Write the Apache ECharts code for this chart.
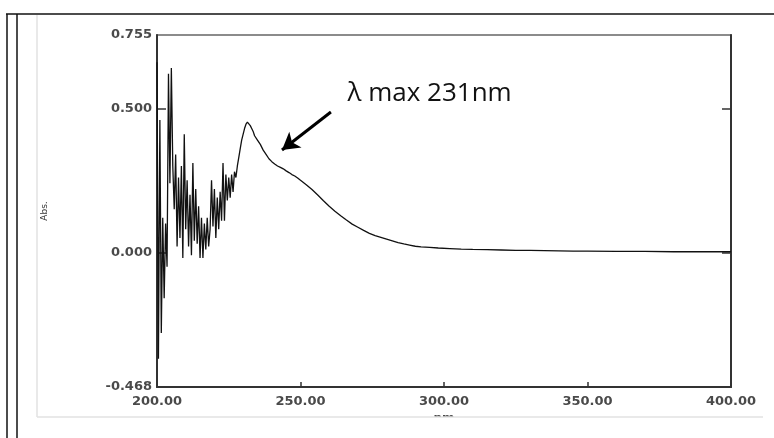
<!DOCTYPE html>
<html>
<head>
<meta charset="utf-8">
<script src="https://cdn.jsdelivr.net/npm/echarts@6.0.0/dist/echarts.min.js"></script>
<style>
html,body{margin:0;padding:0;background:#fff;}
#chart{width:774px;height:438px;}
</style>
</head>
<body>
<div id="chart"></div>
<script>
// ---- data ----
const wavelengths = [
  200.0,200.5,201.0,201.5,202.0,202.5,203.0,203.5,204.0,204.5,
  205.0,205.5,206.0,206.5,207.0,207.5,208.0,208.5,209.0,209.5,
  210.0,210.5,211.0,211.5,212.0,212.5,213.0,213.5,214.0,214.5,
  215.0,215.5,216.0,216.5,217.0,217.5,218.0,218.5,219.0,219.5,
  220.0,220.5,221.0,221.5,222.0,222.5,223.0,223.5,224.0,224.5,
  225.0,225.5,226.0,226.5,227.0,227.5,228.0,228.5,229.0,229.5,
  230.0,230.5,231.0,231.5,232.0,232.5,233.0,233.5,234.0,235.0,
  236.0,237.0,238.0,239.0,240.0,241.0,242.0,243.0,244.0,245.0,
  246.0,247.0,248.0,249.0,250.0,252.0,254.0,256.0,258.0,260.0,
  262.0,264.0,266.0,268.0,270.0,272.0,274.0,276.0,278.0,280.0,
  282.0,284.0,286.0,288.0,290.0,292.0,295.0,298.0,302.0,306.0,
  310.0,315.0,320.0,325.0,330.0,335.0,340.0,345.0,350.0,360.0,
  370.0,380.0,390.0,400.0
];
const absorbance = [
  0.66,-0.37,0.46,-0.28,0.12,-0.16,0.10,-0.05,0.62,0.24,
  0.64,0.30,0.15,0.34,0.02,0.26,0.05,0.30,-0.02,0.41,
  0.08,0.25,0.02,0.20,-0.01,0.31,0.04,0.22,0.03,0.16,
  -0.02,0.12,-0.02,0.10,0.01,0.12,0.02,0.08,0.25,0.09,
  0.22,0.05,0.19,0.08,0.21,0.11,0.31,0.11,0.27,0.18,
  0.26,0.19,0.27,0.21,0.28,0.26,0.30,0.33,0.36,0.39,
  0.41,0.43,0.445,0.452,0.45,0.44,0.43,0.42,0.405,0.39,
  0.375,0.355,0.34,0.325,0.315,0.307,0.30,0.295,0.29,0.283,
  0.277,0.27,0.265,0.258,0.25,0.235,0.218,0.199,0.179,0.16,
  0.143,0.127,0.112,0.098,0.087,0.076,0.066,0.058,0.052,0.046,
  0.040,0.034,0.029,0.025,0.021,0.019,0.017,0.015,0.013,0.011,
  0.010,0.009,0.008,0.007,0.007,0.006,0.005,0.004,0.004,0.003,
  0.003,0.002,0.002,0.002
];
const yLabelValues = [-0.468, 0, 0.5, 0.755];
const yTickValues = [0, 0.5];
const xTickLabels = ['200.00','250.00','300.00','350.00','400.00'];
const annotationText = 'λ max 231nm';
const arrowFrom = [260.6, 0.4875];
const arrowTo = [243.55, 0.3555];
const annotationAt = [266.2, 0.552];

const seriesData = wavelengths.map((w, i) => [w, absorbance[i]]);

const labelFont = {fontFamily: 'DejaVu Sans', fontWeight: 'bold', fontSize: 13, color: '#4a4a4a'};

const chart = echarts.init(document.getElementById('chart'), null, {renderer: 'canvas'});
chart.setOption({
  animation: false,
  backgroundColor: '#fff',
  grid: {left: 157, top: 35, right: 43, bottom: 51, show: true, borderColor: '#666', borderWidth: 1.5},
  xAxis: {
    type: 'value', min: 200, max: 400, interval: 50,
    name: 'nm', nameLocation: 'middle', nameGap: 18,
    nameTextStyle: {fontFamily: 'DejaVu Sans', fontWeight: 'bold', fontSize: 12, color: '#4a4a4a'},
    axisLine: {show: true, onZero: false, lineStyle: {color: '#333', width: 2}},
    axisTick: {show: true, inside: true, length: 5, lineStyle: {color: '#333', width: 1.5}},
    axisLabel: Object.assign({margin: 8, formatter: (v) => xTickLabels[Math.round((v - 200) / 50)]}, labelFont),
    splitLine: {show: false}
  },
  yAxis: [{
    type: 'value', min: -0.468, max: 0.755,
    name: 'Abs.', nameLocation: 'middle', nameGap: 108,
    nameTextStyle: {fontFamily: 'DejaVu Sans', fontSize: 9, color: '#333'},
    axisLine: {show: true, onZero: false, lineStyle: {color: '#333', width: 2}},
    axisTick: {show: true, inside: true, length: 9, customValues: yTickValues, lineStyle: {color: '#333', width: 1.5}},
    axisLabel: Object.assign({margin: 5, customValues: yLabelValues, formatter: (v) => v.toFixed(3)}, labelFont),
    splitLine: {show: false}
  }, {
    type: 'value', min: -0.468, max: 0.755, position: 'right',
    axisLine: {show: true, onZero: false, lineStyle: {color: '#333', width: 2}},
    axisTick: {show: true, inside: true, length: 9, customValues: yTickValues, lineStyle: {color: '#333', width: 1.5}},
    axisLabel: {show: false},
    splitLine: {show: false}
  }],
  series: [{
    type: 'line',
    data: seriesData,
    showSymbol: false,
    symbol: 'none',
    lineStyle: {color: '#111', width: 1.3},
    markLine: {
      silent: true,
      symbol: ['none', 'arrow'],
      symbolSize: [15, 17],
      label: {show: false},
      lineStyle: {color: '#000', width: 3, type: 'solid'},
      data: [[{coord: arrowFrom}, {coord: arrowTo}]]
    },
    markPoint: {
      silent: true,
      symbol: 'circle',
      symbolSize: 1,
      itemStyle: {color: 'rgba(0,0,0,0)'},
      label: {
        show: true, position: 'right', distance: 0,
        formatter: annotationText,
        fontFamily: 'Open Sans', fontSize: 26, color: '#111'
      },
      data: [{coord: annotationAt}]
    }
  }],
  graphic: [
    {type: 'rect', z: 100, shape: {x: 30, y: 417, width: 744, height: 21}, style: {fill: '#fff'}},
    {type: 'line', z: 101, shape: {x1: 37, y1: 15, x2: 37, y2: 417}, style: {stroke: '#e2e2e2', lineWidth: 1.5}},
    {type: 'line', z: 101, shape: {x1: 37, y1: 417, x2: 763, y2: 417}, style: {stroke: '#e2e2e2', lineWidth: 1.5}},
    {type: 'line', z: 101, shape: {x1: 6, y1: 14, x2: 774, y2: 14}, style: {stroke: '#111', lineWidth: 1.5}},
    {type: 'line', z: 101, shape: {x1: 7, y1: 14, x2: 7, y2: 438}, style: {stroke: '#111', lineWidth: 1.5}},
    {type: 'line', z: 101, shape: {x1: 17, y1: 14, x2: 17, y2: 438}, style: {stroke: '#111', lineWidth: 1.5}}
  ]
});
</script>
</body>
</html>
